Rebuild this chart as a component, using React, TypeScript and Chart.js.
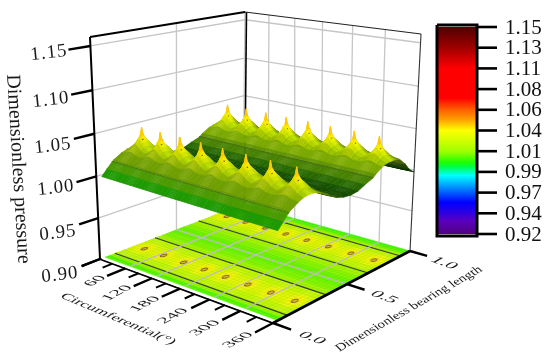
import React, { useEffect, useRef } from "react";
import { Chart, registerables } from "chart.js";

Chart.register(...registerables);

// ---------- values ----------
const circumferentialTicks = [60, 120, 180, 240, 300, 360];
const circumferentialMinor = [30, 90, 150, 210, 270, 330];
const lengthTicks = ["0.0", "0.5", "1.0"];
const lengthTickValues = [0, 0.5, 1];
const pressureTicks = [0.9, 0.95, 1.0, 1.05, 1.1, 1.15];
const barTicks = [1.15, 1.13, 1.11, 1.08, 1.06, 1.04, 1.01, 0.99, 0.97, 0.94, 0.92];
const barLevels = [1.15, 1.127, 1.104, 1.081, 1.058, 1.035, 1.012, 0.989, 0.966, 0.943, 0.92];

const pocketCentres = [22.5, 67.5, 112.5, 157.5, 202.5, 247.5, 292.5, 337.5];
const pocketRows = [0.22, 0.8];

const lengthNodes = [0.03, 0.06, 0.092, 0.1, 0.15, 0.18, 0.2, 0.21, 0.22, 0.23, 0.24, 0.26, 0.29, 0.34, 0.353, 0.4, 0.45, 0.5, 0.55, 0.6, 0.66, 0.68, 0.73, 0.76, 0.78, 0.79, 0.8, 0.81, 0.82, 0.84, 0.87, 0.92, 0.95, 0.98, 1.0];
const lengthPressure = [0.998, 1.005, 1.012, 1.0135, 1.0195, 1.022, 1.0228, 1.023, 1.023, 1.023, 1.0228, 1.022, 1.0195, 1.0145, 1.012, 1.007, 1.004, 1.003, 1.004, 1.008, 1.012, 1.015, 1.0205, 1.0223, 1.0229, 1.023, 1.023, 1.023, 1.0229, 1.0223, 1.0205, 1.012, 1.005, 1.0, 0.998];
const lengthShade = [0.6, 0.61, 0.6, 0.6, 0.64, 0.72, 0.78, 0.8, 0.82, 0.8, 0.78, 0.72, 0.6, 0.45, 0.42, 0.35, 0.3, 0.28, 0.36, 0.46, 0.56, 0.6, 0.72, 0.78, 0.82, 0.84, 0.85, 0.8, 0.72, 0.6, 0.45, 0.28, 0.22, 0.18, 0.15];

const bumpThetaOffsets = [0, 2, 4, 7, 12, 22.5];
const bumpLengthOffsets = [0, 0.01, 0.02, 0.04, 0.07, 0.12];
const bumpRise = [
  [0.026, 0.017, 0.0125, 0.0095, 0.005, 0],
  [0.017, 0.015, 0.012, 0.009, 0.0048, 0],
  [0.0125, 0.012, 0.0105, 0.008, 0.004, 0],
  [0.0085, 0.0082, 0.0075, 0.006, 0.0028, 0],
  [0.0035, 0.0034, 0.003, 0.0022, 0.001, 0],
  [0, 0, 0, 0, 0, 0],
];
const contourLengths = [0.092, 0.353, 0.66, 0.92];
const ringLevel = 1.035;
const ringTheta = [-4, -2.8, 0, 2.8, 4, 2.8, 0, -2.8, -4];
const ringLength = [0, -0.014, -0.02, -0.014, 0, 0.014, 0.02, 0.014, 0];

const colorLevels = [0.92, 0.935, 0.943, 0.955, 0.972, 0.985, 0.995, 1.0, 1.012, 1.035, 1.047, 1.058, 1.071, 1.104, 1.127, 1.15];
const colorStops = [
  [80, 0, 128], [90, 0, 192], [48, 0, 224], [0, 0, 255], [0, 144, 255], [0, 255, 255], [0, 255, 64], [32, 255, 0],
  [160, 255, 0], [255, 255, 0], [255, 160, 0], [255, 96, 0], [255, 0, 0], [255, 0, 0], [160, 0, 0], [80, 0, 0],
];

// ---------- projection of the box ----------
const floorCorners = [[100, 259], [273, 323], [410, 251], [243, 204]];
const topCorners = [[90, 37], [272, 76], [421, 34], [245, 12]];
const Z_MIN = 0.9;
const Z_MAX = 1.16;
const FLOOR_COLOR_SHIFT = 0.004;

function homography(p: number[][]) {
  const [[x0, y0], [x1, y1], [x2, y2], [x3, y3]] = p;
  const dx1 = x1 - x2, dx2 = x3 - x2, sx = x0 - x1 + x2 - x3;
  const dy1 = y1 - y2, dy2 = y3 - y2, sy = y0 - y1 + y2 - y3;
  const det = dx1 * dy2 - dx2 * dy1;
  const g = (sx * dy2 - dx2 * sy) / det;
  const h = (dx1 * sy - sx * dy1) / det;
  const a = x1 - x0 + g * x1, b = x3 - x0 + h * x3, d = y1 - y0 + g * y1, e = y3 - y0 + h * y3;
  return (u: number, v: number) => {
    const w = g * u + h * v + 1;
    return [(a * u + b * v + x0) / w, (d * u + e * v + y0) / w];
  };
}
const floorH = homography(floorCorners);
const topH = homography(topCorners);

function project(theta: number, len: number, z: number) {
  const u = theta / 360;
  const F = floorH(u, len);
  const T = topH(u, len);
  const f = (z - Z_MIN) / (Z_MAX - Z_MIN);
  const t = (f * 0.95) / (1 + f * -0.05);
  return { x: F[0] + (T[0] - F[0]) * t, y: F[1] + (T[1] - F[1]) * t };
}

function colormap(z: number) {
  if (z <= colorLevels[0]) return colorStops[0];
  for (let i = 1; i < colorLevels.length; i++) {
    if (z <= colorLevels[i]) {
      const k = (z - colorLevels[i - 1]) / (colorLevels[i] - colorLevels[i - 1]);
      return colorStops[i].map((c, n) => c * k + colorStops[i - 1][n] * (1 - k));
    }
  }
  return colorStops[colorStops.length - 1];
}
function rgb(c: number[], s = 1) {
  return `rgb(${Math.round(Math.min(255, c[0] * s))},${Math.round(Math.min(255, c[1] * s))},${Math.round(Math.min(255, c[2] * s))})`;
}

// mesh nodes are exactly the table nodes
const thetaNodes: number[] = [0];
pocketCentres.forEach((c) => {
  [-12, -7, -4, -2, 0, 2, 4, 7, 12, 22.5].forEach((o) => thetaNodes.push(c + o));
});

function bumpAt(theta: number, li: number) {
  const L = lengthNodes[li];
  let bestR = -1;
  pocketRows.forEach((r) => {
    const idx = bumpLengthOffsets.findIndex((o) => Math.abs(Math.abs(L - r) - o) < 1e-6);
    if (idx >= 0) bestR = idx;
  });
  if (bestR < 0) return 0;
  let d = 999;
  pocketCentres.forEach((c) => (d = Math.min(d, Math.abs(theta - c))));
  const col = bumpThetaOffsets.findIndex((o) => Math.abs(o - d) < 1e-6);
  return col >= 0 ? bumpRise[bestR][col] : 0;
}
const pressureAt = (theta: number, li: number) => lengthPressure[li] + bumpAt(theta, li);

// ---------- dataset builders ----------
type Pt = { x: number; y: number };
const base = { showLine: true, pointRadius: 0, pointHoverRadius: 0, tension: 0, spanGaps: false };
const lineDs = (data: Pt[], color: string, width: number) => ({ ...base, data, borderColor: color, borderWidth: width, fill: false, borderCapStyle: "butt" });
const quadDs = (data: Pt[], color: string, bw = 0.7) => ({ ...base, data, borderColor: color, borderWidth: bw, backgroundColor: color, fill: "shape" });
const GAP = { x: NaN, y: NaN };

function buildDatasets() {
  const out: any[] = []; // painted in this order, back to front
  const grid = "#c6c6c6";

  // walls
  pressureTicks.slice(1).forEach((z) => {
    out.push(lineDs([project(0, 0, z), project(0, 1, z), project(360, 1, z)], grid, 1.3));
  });
  out.push(lineDs([project(0, 0.5, Z_MIN), project(0, 0.5, Z_MAX)], grid, 1.3));
  [0, 60, 120, 180, 240, 300].forEach((t) => out.push(lineDs([project(t, 1, Z_MIN), project(t, 1, Z_MAX)], grid, 1.3)));
  out.push(lineDs([topCorners[3], floorCorners[3]].map((p) => ({ x: p[0] + 1.5, y: p[1] })), "#000", 1.6));
  out.push(lineDs([project(360, 1, Z_MAX), project(360, 1, Z_MIN)], "#333", 1.1));
  out.push(lineDs([project(0, 1, Z_MAX), project(360, 1, Z_MAX)], "#222", 1.1));
  out.push(lineDs([project(0, 0, Z_MAX), project(0, 1, Z_MAX)], "#000", 1.8));
  out.push(lineDs([project(0, 0, Z_MIN), project(0, 0, Z_MAX)], "#000", 2));

  // floor (contour projection of the surface)
  for (let i = lengthNodes.length - 2; i >= 0; i--) {
    const flat = thetaNodes.every((t) => bumpAt(t, i) === 0 && bumpAt(t, i + 1) === 0);
    const thetas = flat ? [0, 360] : thetaNodes;
    for (let j = 0; j < thetas.length - 1; j++) {
      const a = thetas[j], b = thetas[j + 1];
      const z = (pressureAt(a, i) + pressureAt(b, i) + pressureAt(a, i + 1) + pressureAt(b, i + 1)) / 4;
      const c = rgb(colormap(z + FLOOR_COLOR_SHIFT), 0.97);
      out.push(quadDs([project(a, lengthNodes[i], Z_MIN), project(b, lengthNodes[i], Z_MIN), project(b, lengthNodes[i + 1], Z_MIN), project(a, lengthNodes[i + 1], Z_MIN)], c));
    }
  }
  for (let t = 0; t <= 360; t += 7.5) out.push(lineDs([project(t, 0.03, Z_MIN), project(t, 1, Z_MIN)], "rgba(60,90,0,0.11)", 0.6));
  for (let l = 0.05; l < 1; l += 0.025) out.push(lineDs([project(0, l, Z_MIN), project(360, l, Z_MIN)], "rgba(60,90,0,0.11)", 0.6));
  contourLengths.forEach((l) => out.push(lineDs([project(0, l, Z_MIN), project(360, l, Z_MIN)], "#3c3c34", 1.2)));
  circumferentialTicks.slice(0, 5).forEach((t) => out.push(lineDs([project(t, 0.03, Z_MIN), project(t, 1, Z_MIN)], "#bdbdbd", 1.3)));
  out.push(lineDs([project(0, 0.5, Z_MIN), project(360, 0.5, Z_MIN)], "#bdbdbd", 1.3));
  pocketRows.forEach((r) =>
    pocketCentres.forEach((c) => {
      const ring = ringTheta.map((dt, k) => project(c + dt, r + ringLength[k], Z_MIN));
      out.push({ ...quadDs(ring, "#d0b838", 0.9), borderColor: "#75652a" });
    })
  );

  // axes
  out.push(lineDs([project(0, 0, Z_MIN), project(360, 0, Z_MIN)], "#000", 2));
  out.push(lineDs([project(0, 0.012, Z_MIN), project(360, 0.012, Z_MIN)], "#fff", 1.6));
  out.push(lineDs([project(360, 0, Z_MIN), project(360, 1, Z_MIN)], "#000", 2.6));
  circumferentialTicks.concat(0).forEach((t) => out.push(lineDs([project(t, 0, Z_MIN), project(t, -0.11, Z_MIN)], "#000", 2.4)));
  circumferentialMinor.forEach((t) => out.push(lineDs([project(t, 0, Z_MIN), project(t, -0.06, Z_MIN)], "#000", 2)));
  lengthTickValues.forEach((l) => out.push(lineDs([project(360, l, Z_MIN), project(392, l, Z_MIN)], "#000", 2.4)));
  pressureTicks.forEach((z) => out.push(lineDs([project(0, 0, z), project(0, -0.11, z)], "#000", 2.4)));

  // surface, back to front
  const meshT = new Set<number>();
  pocketCentres.forEach((c) => [-12, 12, 22.5].forEach((o) => meshT.add(c + o)));
  meshT.add(0);
  for (let i = lengthNodes.length - 2; i >= 0; i--) {
    for (let j = 0; j < thetaNodes.length - 1; j++) {
      const a = thetaNodes[j], b = thetaNodes[j + 1];
      const pts = [[a, i], [b, i], [b, i + 1], [a, i + 1]].map(([t, l]) => project(t, lengthNodes[l], pressureAt(t, l)));
      const z = (pressureAt(a, i) + pressureAt(b, i) + pressureAt(a, i + 1) + pressureAt(b, i + 1)) / 4;
      const bump = z - (lengthPressure[i] + lengthPressure[i + 1]) / 2;
      const slope = pressureAt(b, i) - pressureAt(a, i);
      const s = (lengthShade[i] + lengthShade[i + 1]) / 2 + bump * 10 - slope * 8;
      out.push(quadDs(pts, rgb(colormap(z), Math.min(1, s))));
    }
    const seg: Pt[] = [];
    thetaNodes.forEach((t) => {
      if (meshT.has(t)) {
        seg.push(project(t, lengthNodes[i], pressureAt(t, i)), project(t, lengthNodes[i + 1], pressureAt(t, i + 1)), GAP);
      }
    });
    out.push(lineDs(seg, "rgba(30,50,0,0.1)", 0.6));
    const row = thetaNodes.map((t) => project(t, lengthNodes[i], pressureAt(t, i)));
    if (i % 3 === 0) out.push(lineDs(row, "rgba(30,50,0,0.1)", 0.6));
    if (contourLengths.includes(lengthNodes[i])) out.push(lineDs(row, "#4a4a44", 1.3));
    pocketRows.forEach((r) => {
      if (Math.abs(lengthNodes[i] - (r - 0.01)) < 1e-6) {
        pocketCentres.forEach((c) => {
          const ring = ringTheta.slice(0, 5).map((dt, k) => project(c + dt, r + ringLength[k], ringLevel));
          out.push(lineDs(ring, "#6b5c14", 1.2));
        });
      }
    });
  }

  // colour bar
  const barX0 = 437, barX1 = 477, barTop = 27, barBottom = 234;
  const barY = (z: number) => barTop + ((1.15 - z) / 0.23) * (barBottom - barTop);
  for (let y = barTop; y < barBottom; y++) {
    const z = 1.15 - ((y + 0.5 - barTop) / (barBottom - barTop)) * 0.23;
    out.push(quadDs([{ x: barX0, y }, { x: barX1, y }, { x: barX1, y: y + 1 }, { x: barX0, y: y + 1 }], rgb(colormap(z)), 0));
  }
  out.push(lineDs([{ x: barX0, y: 25 }, { x: barX1, y: 25 }, { x: barX1, y: 236 }, { x: barX0, y: 236 }, { x: barX0, y: 25 }], "#000", 3));
  barLevels.forEach((z) => out.push(lineDs([{ x: barX1, y: barY(z) }, { x: 497, y: barY(z) }], "#000", 2.6)));

  return out.reverse();
}

// ---------- text ----------
const SERIF = '"Liberation Serif", "Times New Roman", serif';
function put(ctx: any, sc: any, text: string, x: number, y: number, m: number[], font: string, spacing = "0px", color = "#1a1a1a") {
  ctx.save();
  ctx.font = font;
  ctx.letterSpacing = spacing;
  ctx.fillStyle = color;
  ctx.textAlign = "center";
  ctx.textBaseline = "middle";
  ctx.transform(m[0], m[1], m[2], m[3], sc.x.getPixelForValue(x), sc.y.getPixelForValue(y));
  ctx.fillText(text, 0, 0);
  ctx.restore();
}

const pressureLabelPos = [[60, 275], [58, 233], [56, 188], [53, 146], [51, 100], [49, 53]];
const thetaLabelPos = [[95, 281], [117, 293], [145, 304], [173, 316], [205, 328], [238, 340]];
const lengthLabelPos = [[312, 338], [384, 297], [444, 263]];

const textPlugin = {
  id: "chartText",
  afterDraw(chart: any) {
    const { ctx, scales } = chart;
    pressureTicks.forEach((v, i) => {
      put(ctx, scales, v.toFixed(2), pressureLabelPos[i][0], pressureLabelPos[i][1], [0.99, -0.13, 0.1, 0.99], `19px ${SERIF}`, "1px");
    });
    put(ctx, scales, "Dimensionless pressure", 18, 169, [0.06, 1, -1, 0.03], `20px ${SERIF}`);
    circumferentialTicks.forEach((v, i) => {
      put(ctx, scales, String(v), thetaLabelPos[i][0], thetaLabelPos[i][1], [0.88, -0.47, 0.7, 0.26], `19px ${SERIF}`);
    });
    put(ctx, scales, "Circumferential(°)", 118, 319, [0.92, 0.39, -0.62, 0.42], `16.5px ${SERIF}`);
    lengthTicks.forEach((v, i) => {
      put(ctx, scales, v, lengthLabelPos[i][0], lengthLabelPos[i][1], [0.94, 0.36, -0.62, 0.36], `20px ${SERIF}`);
    });
    put(ctx, scales, "Dimensionless bearing length", 409, 309, [0.78, -0.44, 0.55, 0.55], `15.5px ${SERIF}`);
    barTicks.forEach((v, i) => {
      const y = 27 + (i * 207) / 10;
      ctx.save();
      ctx.font = `21px ${SERIF}`;
      ctx.fillStyle = "#111";
      ctx.textAlign = "left";
      ctx.textBaseline = "middle";
      ctx.fillText(v.toFixed(2), scales.x.getPixelForValue(505), scales.y.getPixelForValue(y + 1));
      ctx.restore();
    });
  },
};

export default function App() {
  const ref = useRef<HTMLCanvasElement>(null);
  useEffect(() => {
    document.body.style.margin = "0";
    document.body.style.background = "#fff";
    const chart = new Chart(ref.current as any, {
      type: "scatter",
      data: { datasets: buildDatasets() },
      plugins: [textPlugin],
      options: {
        responsive: false,
        animation: false,
        parsing: false,
        normalized: true,
        events: [],
        layout: { padding: 0 },
        scales: {
          x: { type: "linear", display: false, min: 0, max: 550 },
          y: { type: "linear", display: false, min: 0, max: 362, reverse: true },
        },
        plugins: { legend: { display: false }, tooltip: { enabled: false }, filler: { drawTime: "beforeDatasetDraw" } },
      },
    } as any);
    return () => chart.destroy();
  }, []);
  return <canvas ref={ref} width={550} height={362} style={{ display: "block" }} />;
}
